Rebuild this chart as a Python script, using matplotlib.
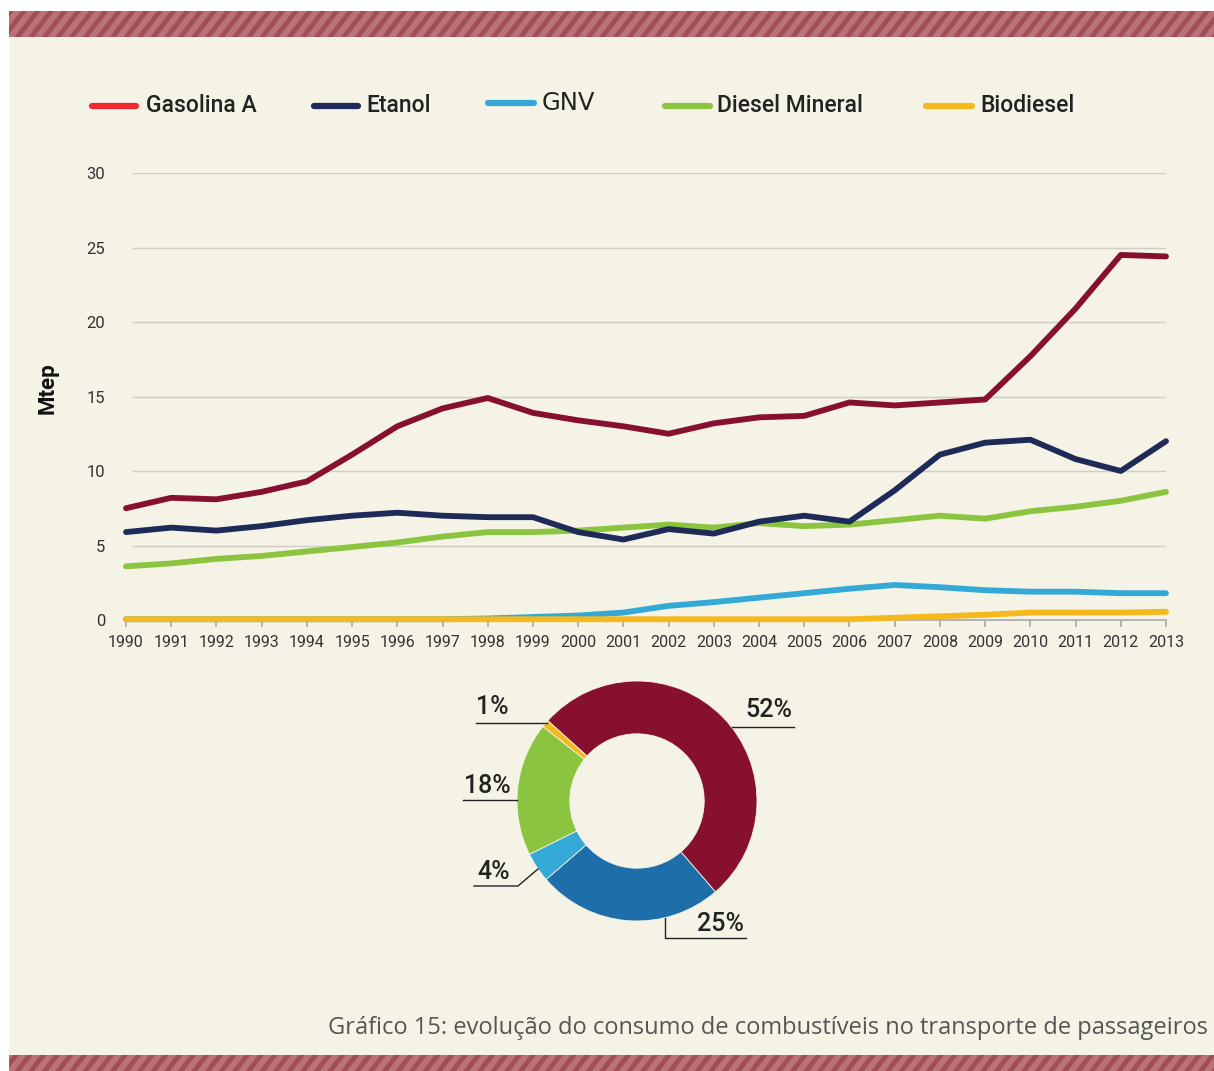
import matplotlib
matplotlib.use("Agg")
import matplotlib.pyplot as plt
from matplotlib.patches import Rectangle, Polygon
from matplotlib.lines import Line2D
import numpy as np

# ---------------- data ----------------
years = list(range(1990, 2014))
gasolina = [7.5, 8.2, 8.1, 8.6, 9.3, 11.1, 13.0, 14.2, 14.9, 13.9, 13.4, 13.0,
            12.5, 13.2, 13.6, 13.7, 14.6, 14.4, 14.6, 14.8, 17.7, 20.9, 24.5, 24.4]
etanol = [5.9, 6.2, 6.0, 6.3, 6.7, 7.0, 7.2, 7.0, 6.9, 6.9, 5.9, 5.4,
          6.1, 5.8, 6.6, 7.0, 6.6, 8.7, 11.1, 11.9, 12.1, 10.8, 10.0, 12.0]
gnv = [0.05, 0.05, 0.05, 0.05, 0.05, 0.05, 0.05, 0.05, 0.1, 0.2, 0.3, 0.5,
       0.95, 1.2, 1.5, 1.8, 2.1, 2.35, 2.2, 2.0, 1.9, 1.9, 1.8, 1.8]
diesel = [3.6, 3.8, 4.1, 4.3, 4.6, 4.9, 5.2, 5.6, 5.9, 5.9, 6.0, 6.2,
          6.4, 6.2, 6.5, 6.3, 6.4, 6.7, 7.0, 6.8, 7.3, 7.6, 8.0, 8.6]
biodiesel = [0.05, 0.05, 0.05, 0.05, 0.05, 0.05, 0.05, 0.05, 0.05, 0.05, 0.05, 0.05,
             0.05, 0.05, 0.05, 0.05, 0.05, 0.15, 0.25, 0.35, 0.5, 0.5, 0.5, 0.55]
yticks = [0, 5, 10, 15, 20, 25, 30]

share_labels = ["52%", "25%", "4%", "18%", "1%"]
share_values = [52, 25, 4, 18, 1]

legend_names = ["Gasolina A", "Etanol", "GNV", "Diesel Mineral", "Biodiesel"]

# ---------------- style ----------------
W, H = 1214, 1071
c_gas, c_eta, c_gnv, c_die, c_bio = "#86102E", "#1E2A57", "#32A9D6", "#8BC540", "#F5B91E"
legend_colors = ["#EE2A2D", c_eta, c_gnv, c_die, c_bio]
donut_colors = [c_gas, "#1E6EAA", c_gnv, c_die, c_bio]
cream = "#F5F2E6"
font = "Roboto"

fig = plt.figure(figsize=(W / 100, H / 100), dpi=100, facecolor="white")

# background / decoration in pixel coords
bg = fig.add_axes([0, 0, 1, 1])
bg.set_xlim(0, W)
bg.set_ylim(H, 0)
bg.axis("off")
bg.add_patch(Rectangle((9, 11), W - 9, H - 11, facecolor=cream, lw=0))
for (y0, y1) in [(11, 37), (1055, 1071)]:
    band = Rectangle((9, y0), W - 9, y1 - y0, facecolor="#B97276", lw=0)
    bg.add_patch(band)
    h = y1 - y0
    dx = h * 0.78
    for x in np.arange(-40, W + 40, 13.6):
        p = Polygon([[x, y1], [x + 6, y1], [x + 6 + dx, y0], [x + dx, y0]],
                    closed=True, facecolor="#A24E55", lw=0)
        bg.add_patch(p)
        p.set_clip_path(band)

# ---------------- line chart ----------------
ax = fig.add_axes([126 / W, 1 - 620 / H, (1166 - 126) / W, (620 - 173) / H])
ax.set_facecolor("none")
ax.set_xlim(1990, 2013)
ax.set_ylim(0, 30)
for v in yticks[1:]:
    ax.axhline(v, xmin=7 / 1040, color="#CFCDC4", lw=1.0, zorder=0)
for s in ["top", "right", "left"]:
    ax.spines[s].set_visible(False)
ax.spines["bottom"].set_color("#A8A8A8")
ax.spines["bottom"].set_linewidth(1.2)
ax.set_xticks(years)
ax.set_xticklabels([str(y) for y in years], fontsize=11.5, color="#333333", fontfamily=font)
ax.set_yticks(yticks)
ax.set_yticklabels([str(v) for v in yticks], fontsize=12, color="#333333", fontfamily=font)
ax.tick_params(axis="x", direction="out", length=5, width=1.2, color="#A8A8A8", pad=6)
ax.tick_params(axis="y", length=0, pad=15)

kw = dict(lw=4.2, solid_capstyle="round", solid_joinstyle="round", clip_on=False)
ax.plot(years, gnv, color=c_gnv, zorder=3, **kw)
ax.plot(years, biodiesel, color=c_bio, zorder=4, **kw)
ax.plot(years, diesel, color=c_die, zorder=5, **kw)
ax.plot(years, etanol, color=c_eta, zorder=6, **kw)
ax.plot(years, gasolina, color=c_gas, zorder=7, **kw)

fig.text(48 / W, 1 - 388 / H, "Mtep", rotation=90, fontsize=16, fontweight="bold",
         fontfamily=font, ha="center", va="center", color="#111111")

# ---------------- legend ----------------
leg_pos = [(92, 136, 146, 106), (314, 358, 366, 106), (488, 534, 542, 103),
           (665, 710, 717, 106), (926, 972, 980, 106)]
leg_fonts = [(font, 16.5, "medium"), (font, 16.5, "medium"), ("DejaVu Sans", 17.5, "normal"),
             (font, 16.5, "medium"), (font, 16.5, "medium")]
for (x0, x1, xt, yy), name, col, (fam, fs, fw) in zip(leg_pos, legend_names, legend_colors, leg_fonts):
    bg.add_line(Line2D([x0, x1], [yy, yy], color=col, lw=4.5, solid_capstyle="round"))
    bg.text(xt, yy, name, fontsize=fs, fontfamily=fam, fontweight=fw,
            color="#222222", ha="left", va="center")

# ---------------- donut ----------------
cx, cy, R = 637, 801, 120
size = 300
dax = fig.add_axes([(cx - size / 2) / W, 1 - (cy + size / 2) / H, size / W, size / H])
dax.set_xlim(-size / 2 / R, size / 2 / R)
dax.set_ylim(-size / 2 / R, size / 2 / R)
dax.set_aspect("equal")
dax.axis("off")
dax.pie(share_values, colors=donut_colors, startangle=138, counterclock=False,
        radius=1, wedgeprops=dict(width=0.44, edgecolor=cream, linewidth=0.6))


def to_d(px, py):
    return (px - cx) / R, (cy - py) / R


lc = "#222222"
label_specs = [
    ("52%", [(732, 727), (794, 727)], (769, 710)),
    ("25%", [(665, 918), (665, 938), (746, 938)], (721, 924)),
    ("4%", [(538, 869), (518, 886), (474, 886)], (494, 872)),
    ("18%", [(517, 800), (463, 800)], (487, 786)),
    ("1%", [(547, 723), (476, 723)], (492, 707)),
]
for lab, pts, tp in label_specs:
    xs, ys = zip(*[to_d(*p) for p in pts])
    dax.add_line(Line2D(xs, ys, color=lc, lw=1.0, clip_on=False))
    tx, ty = to_d(*tp)
    dax.text(tx, ty, lab, fontsize=18, fontfamily=font, fontweight="medium",
             color="#222222", ha="center", va="center", clip_on=False)

# ---------------- caption ----------------
bg.text(1208, 1028, "Gráfico 15: evolução do consumo de combustíveis no transporte de passageiros",
        fontsize=17, fontfamily="Open Sans", color="#555555", ha="right", va="center")

fig.savefig("out.png", dpi=100, facecolor="white")
